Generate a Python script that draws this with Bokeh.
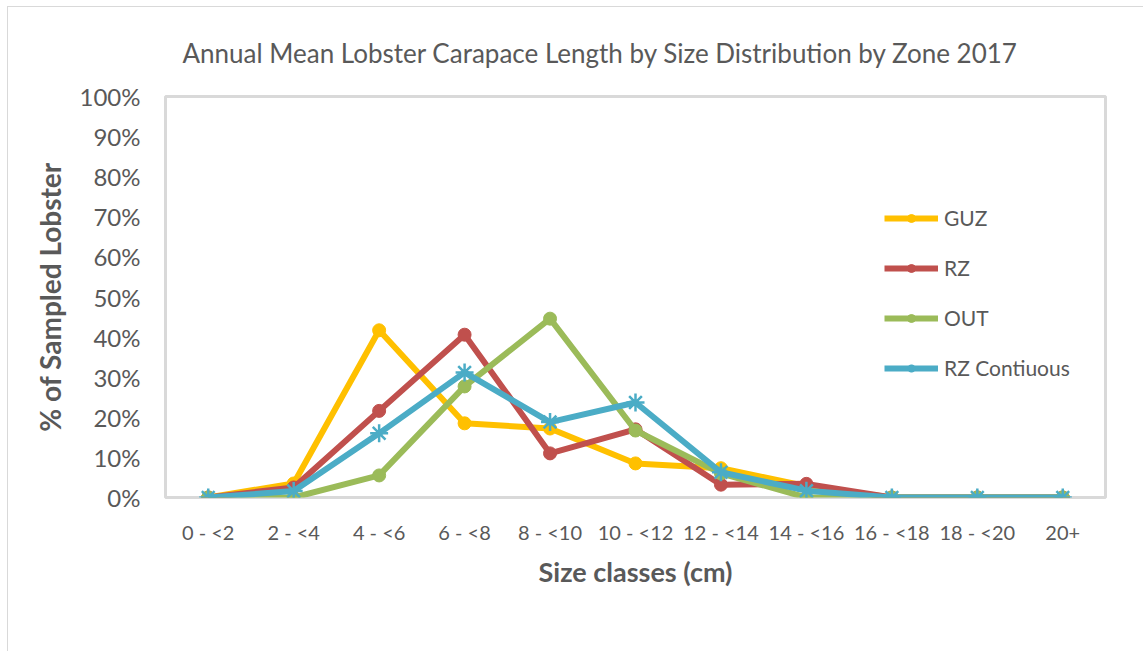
from bokeh.plotting import figure
from bokeh.models import Range1d, FactorRange, NumeralTickFormatter, Legend, LegendItem
from bokeh.embed import file_html
from bokeh.resources import INLINE

categories = ["0 - <2", "2 - <4", "4 - <6", "6 - <8", "8 - <10", "10 - <12",
              "12 - <14", "14 - <16", "16 - <18", "18 - <20", "20+"]
guz = [0.0, 3.5, 41.7, 18.5, 17.2, 8.5, 7.3, 2.8, 0.0, 0.0, 0.0]
rz = [0.0, 2.5, 21.6, 40.6, 11.0, 17.0, 3.2, 3.4, 0.0, 0.0, 0.0]
out = [0.0, 0.0, 5.5, 27.7, 44.6, 16.7, 6.0, 0.0, 0.0, 0.0, 0.0]
rz_cont = [0.0, 1.6, 16.0, 31.2, 18.8, 23.7, 6.3, 1.7, 0.0, 0.0, 0.0]
y_ticks = [0, 10, 20, 30, 40, 50, 60, 70, 80, 90, 100]

FONT = "Lato"
GREY = "#595959"

p = figure(width=1136, height=645, x_range=FactorRange(*categories, range_padding=0),
           y_range=Range1d(0, 100), output_backend="svg", toolbar_location=None,
           title="Annual Mean Lobster Carapace Length by Size Distribution by Zone 2017",
           min_border_left=157, min_border_right=39, min_border_top=89, min_border_bottom=155)
p.styles = {"margin-left": "8px", "margin-top": "7px",
            "box-shadow": "-1px -1px 0 0 #d9d9d9"}

p.title.text_font = FONT
p.title.text_font_size = "26px"
p.title.text_font_style = "normal"
p.title.text_color = GREY
p.title.align = "left"
p.title.offset = 17
p.title.standoff = 55

p.outline_line_color = "#d9d9d9"
p.outline_line_width = 3
p.xgrid.visible = False
p.ygrid.visible = False

p.yaxis.ticker = y_ticks
p.yaxis.formatter = NumeralTickFormatter(format="0")
p.yaxis.major_label_overrides = {v: f"{v}%" for v in y_ticks}
for ax in (p.xaxis, p.yaxis):
    ax.axis_line_color = None
    ax.major_tick_line_color = None
    ax.minor_tick_line_color = None
    ax.major_tick_out = 0
    ax.major_tick_in = 0
    ax.major_label_text_color = GREY
    ax.major_label_text_font = FONT
    ax.axis_label_text_font = FONT
    ax.axis_label_text_color = GREY
    ax.axis_label_text_font_style = "bold"

p.yaxis.major_label_text_font_size = "24px"
p.yaxis.major_label_standoff = 25
p.yaxis.axis_label = "% of Sampled Lobster"
p.yaxis.axis_label_text_font_size = "28px"
p.yaxis.axis_label_standoff = 10

p.xaxis.major_label_text_font_size = "20px"
p.xaxis.major_label_standoff = 22
p.xaxis.axis_label = "Size classes (cm)"
p.xaxis.axis_label_text_font_size = "27px"
p.xaxis.axis_label_standoff = 8

series = [("GUZ", guz, "#FFC000", "circle"),
          ("RZ", rz, "#C0504D", "circle"),
          ("OUT", out, "#9BBB59", "circle"),
          ("RZ Contiuous", rz_cont, "#4BACC6", "asterisk")]

items = []
for name, vals, color, marker in series:
    l = p.line(categories, vals, line_color=color, line_width=6)
    if marker == "circle":
        s = p.scatter(categories, vals, marker="circle", size=13, fill_color=color, line_color=color)
    else:
        s = p.scatter(categories, vals, marker="asterisk", size=18, line_color=color, line_width=2.5)
    items.append(LegendItem(label=name, renderers=[l, s]))

legend = Legend(items=items, location=(719, 117), padding=0, margin=0,
                spacing=25, glyph_width=54, glyph_height=20, label_height=20,
                label_standoff=6, label_text_font=FONT, label_text_font_size="21px",
                label_text_color=GREY, border_line_alpha=0, background_fill_alpha=0)
p.add_layout(legend)

open("out.html", "w").write(file_html(p, INLINE))
